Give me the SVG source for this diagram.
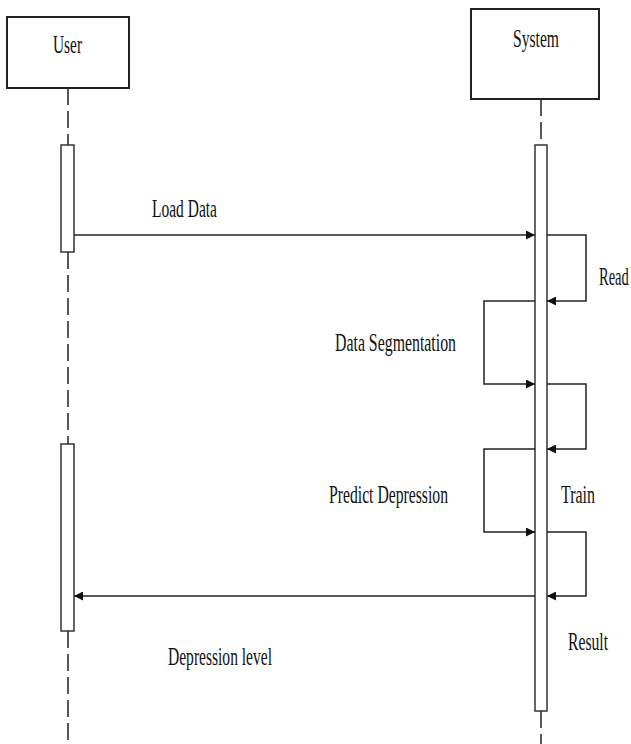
<svg xmlns="http://www.w3.org/2000/svg" width="631" height="744" viewBox="0 0 631 744">
  <style>
    .box { fill: #fff; stroke: #222; stroke-width: 2; }
    .act { fill: #fff; stroke: #333; stroke-width: 1.5; }
    .life { stroke: #222; stroke-width: 1.5; stroke-dasharray: 17 6; fill: none; }
    .msg { stroke: #222; stroke-width: 1.5; fill: none; }
    .lbl { font-family: "Liberation Serif", "Times New Roman", serif; font-size: 25px; fill: #111; }
  </style>
  <defs>
    <marker id="arrow" viewBox="0 0 10 10" refX="10" refY="5" markerWidth="9" markerHeight="9" markerUnits="userSpaceOnUse" orient="auto">
      <path d="M0,0 L10,5 L0,10 Z" fill="#111"/>
    </marker>
  </defs>
  <rect width="631" height="744" fill="#fff"/>

  <!-- lifelines -->
  <g id="lifelines">
    <line class="life" x1="68" y1="88" x2="68" y2="145"/>
    <line class="life" x1="68" y1="252" x2="68" y2="444"/>
    <line class="life" x1="68" y1="631" x2="68" y2="744"/>
    <line class="life" x1="541" y1="99" x2="541" y2="145"/>
    <line class="life" x1="541" y1="711" x2="541" y2="744"/>
  </g>

  <g id="user">
    <rect class="box" x="7" y="17" width="122" height="71"/>
    <text class="lbl" x="53" y="53" textLength="29" lengthAdjust="spacingAndGlyphs">User</text>
  </g>
  <g id="system">
    <rect class="box" x="471" y="9" width="128" height="90"/>
    <text class="lbl" x="513" y="47" textLength="46" lengthAdjust="spacingAndGlyphs">System</text>
  </g>

  <g id="user-activation-1"><rect class="act" x="61" y="145" width="13" height="107"/></g>
  <g id="user-activation-2"><rect class="act" x="61" y="444" width="13" height="187"/></g>
  <g id="system-activation"><rect class="act" x="535" y="145" width="12" height="566"/></g>

  <!-- messages -->
  <g id="connectors">
    <line class="msg" x1="74" y1="235" x2="535" y2="235" marker-end="url(#arrow)"/>
    <polyline class="msg" points="547,235 586,235 586,301 547,301" marker-end="url(#arrow)"/>
    <polyline class="msg" points="535,301 484,301 484,384 535,384" marker-end="url(#arrow)"/>
    <polyline class="msg" points="547,384 586,384 586,449 547,449" marker-end="url(#arrow)"/>
    <polyline class="msg" points="535,449 484,449 484,532 535,532" marker-end="url(#arrow)"/>
    <polyline class="msg" points="547,532 586,532 586,596 547,596" marker-end="url(#arrow)"/>
    <line class="msg" x1="535" y1="596" x2="74" y2="596" marker-end="url(#arrow)"/>
  </g>

  <g id="labels">
    <text class="lbl" x="152" y="217" textLength="65" lengthAdjust="spacingAndGlyphs">Load Data</text>
    <text class="lbl" transform="translate(599 285) scale(0.58 1)" x="0" y="0">Read</text>
    <text class="lbl" x="335" y="351" textLength="121" lengthAdjust="spacingAndGlyphs">Data Segmentation</text>
    <text class="lbl" x="329" y="503" textLength="119" lengthAdjust="spacingAndGlyphs">Predict Depression</text>
    <text class="lbl" x="561" y="503" textLength="34" lengthAdjust="spacingAndGlyphs">Train</text>
    <text class="lbl" x="568" y="650" textLength="40" lengthAdjust="spacingAndGlyphs">Result</text>
    <text class="lbl" x="168" y="665" textLength="104" lengthAdjust="spacingAndGlyphs">Depression level</text>
  </g>
</svg>
